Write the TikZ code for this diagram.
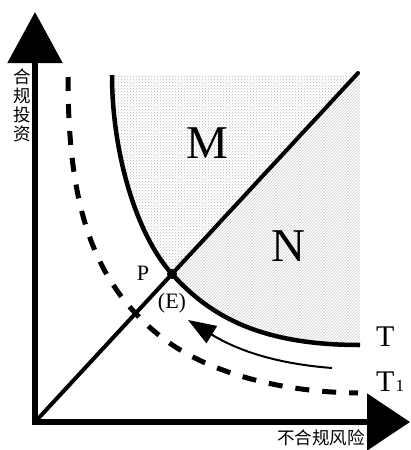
\documentclass[tikz,border=0pt]{standalone}
\usepackage{fontspec}
\setmainfont{Liberation Serif}
\newfontfamily\cjk{Noto Sans CJK SC}
\usetikzlibrary{arrows.meta,patterns}
\begin{document}
\begin{tikzpicture}[x=1pt,y=-1pt,
  axisline/.style={line width=5.5pt,line join=miter},
  curveT/.style={line width=4.5pt},
  diag/.style={line width=4pt,line cap=round},
  dashT/.style={line width=5pt,dash pattern=on 14pt off 13pt},
  moveline/.style={line width=2pt,-{Triangle[length=28pt,width=20pt]}},
  bigletter/.style={font=\fontsize{47}{47}\selectfont,inner sep=0pt},
  midletter/.style={font=\fontsize{30}{30}\selectfont,inner sep=0pt},
  smallletter/.style={font=\fontsize{22}{22}\selectfont,inner sep=0pt},
  cjklabel/.style={font=\cjk\fontsize{17.5}{19}\selectfont,inner sep=0pt,align=center}]
\useasboundingbox (0,0) rectangle (410,450);
\fill[white] (0,0) rectangle (410,450);
% key points
\coordinate (O) at (35,422);
\coordinate (ytip) at (35,12);
\coordinate (xtip) at (410,422);
\coordinate (Ptop) at (112,75);
\coordinate (P0) at (172,274);
\coordinate (Tend) at (360,345);
\coordinate (Dend) at (358,73);
% shaded regions
\path[pattern=crosshatch dots,pattern color=gray!55]
  (Ptop) .. controls (112,150) and (135,233) .. (P0) -- (356,75) -- cycle;
\path[pattern=north east lines,pattern color=gray!40]
  (P0) .. controls (210,316) and (260,345) .. (Tend) -- (360,75) -- (356,75) -- cycle;
% axes
\draw[axisline,arrows={Triangle[length=51pt,width=54pt]-Triangle[length=43pt,width=56pt]}]
  (ytip) -- (O) -- (xtip);
% diagonal
\draw[diag] (O) -- (Dend);
% curve T
\draw[curveT] (Ptop) .. controls (112,150) and (135,233) .. (P0)
  .. controls (210,316) and (260,345) .. (Tend);
% dashed curve T1
\coordinate (D0) at (68,77);
\coordinate (Dmid) at (160,336);
\coordinate (D1) at (358,393);
\draw[dashT] (D0) .. controls (68,200) and (90,280) .. (Dmid)
  .. controls (200,368) and (270,392) .. (D1);
% movement arrow
\coordinate (A0) at (332,368);
\coordinate (A1) at (188,320);
\draw[moveline] (A0) .. controls (280,364) and (240,352) .. (A1);
% point P
\node[circle,fill=black,inner sep=0pt,minimum size=10pt] (P) at (P0) {};
\node[smallletter] (Plab) at (143,273) {P};
\node[smallletter] (Elab) at (172,303) {(E)};
% region letters
\node[bigletter] (M) at (207,143) {M};
\node[bigletter] (N) at (288,246) {N};
% curve labels
\node[midletter,anchor=west] (Tlab) at (376,337) {T};
\node[midletter,anchor=west] (T1lab) at (376,382) {T\hspace{1pt}{\fontsize{17}{17}\selectfont 1}};
% axis labels
\node[cjklabel] (ylab) at (22.5,105) {合\\规\\投\\资};
\node[cjklabel] (xlab) at (321,438) {不合规风险};
\end{tikzpicture}
\end{document}
